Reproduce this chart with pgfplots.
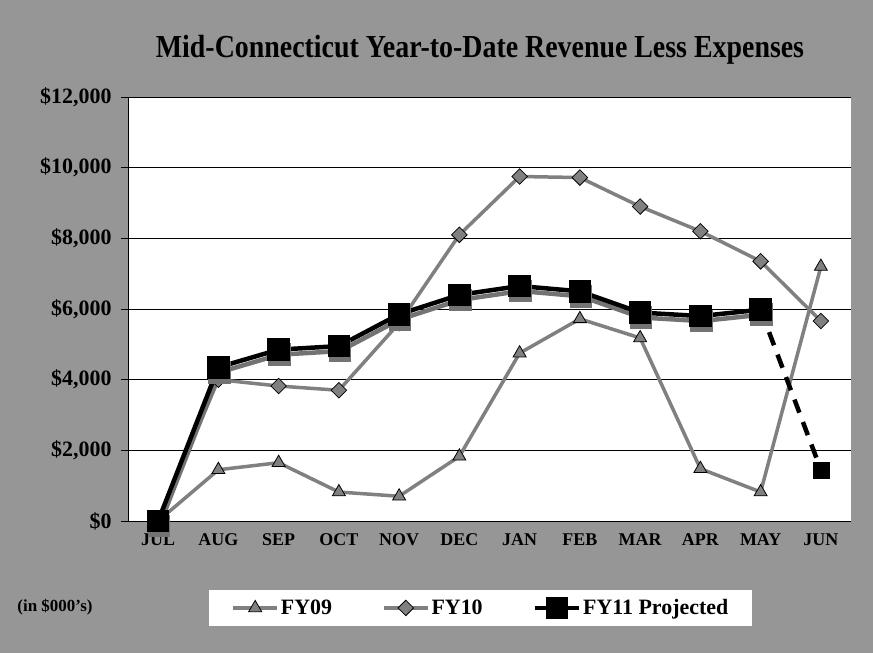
\documentclass[border=0pt]{standalone}
\usepackage{pgfplots}
\pgfplotsset{compat=1.18}
\usepackage{fontspec}
\setmainfont{Liberation Serif}
\definecolor{bggray}{RGB}{150,150,150}
\definecolor{linegray}{RGB}{128,128,128}
\definecolor{shadowgray}{RGB}{115,115,115}

% Year-to-date revenue less expenses, in $000's, JUL = 0 ... JUN = 11
\pgfplotstableread{
m fy09 fy10 fy11
0  0    0    0
1  1450 4000 4350
2  1650 3820 4850
3  820  3700 4950
4  700  5600 5850
5  1830 8100 6400
6  4750 9750 6650
7  5720 9720 6500
8  5180 8900 5900
9  1480 8200 5800
10 820  7350 5980
11 7200 5660 1450
}\revtable

\pgfplotstableread{
m fy11
0  0
1  4350
2  4850
3  4950
4  5850
5  6400
6  6650
7  6500
8  5900
9  5800
10 5980
}\actualtable

\pgfplotstableread{
m fy11
10 5980
11 1450
}\projtable

\begin{document}
\begin{tikzpicture}
\fill[bggray] (0bp,0bp) rectangle (873bp,653bp);
\node[font=\bfseries\fontsize{28}{30}\selectfont, yscale=1.15, transform shape] at (480bp,603bp)
  {Mid-Connecticut Year-to-Date Revenue Less Expenses};
\node[font=\bfseries\fontsize{17}{19}\selectfont] at (55bp,46bp) {(in \$000's)};
\begin{axis}[
  at={(128bp,132bp)}, anchor=south west,
  scale only axis, width=723bp, height=424bp,
  xmin=-0.5, xmax=11.5, ymin=0, ymax=12000,
  scaled y ticks=false,
  axis background/.style={fill=white},
  axis x line*=bottom, axis y line*=left,
  axis line style={black, line width=0.6bp},
  xtick={0,...,11},
  xticklabels={JUL,AUG,SEP,OCT,NOV,DEC,JAN,FEB,MAR,APR,MAY,JUN},
  ytick={0,2000,4000,6000,8000,10000,12000},
  yticklabels={{\$0},{\$2,000},{\$4,000},{\$6,000},{\$8,000},{\$10,000},{\$12,000}},
  ymajorgrids, grid style={black, line width=0.7bp},
  major x tick style={draw=none},
  major y tick style={black, line width=0.6bp},
  tick align=outside, major tick length=7bp,
  xticklabel style={font=\bfseries\fontsize{18}{20}\selectfont, yshift=-2bp},
  yticklabel style={font=\bfseries\fontsize{22}{24}\selectfont, xshift=-6bp},
  clip=false,
  legend style={at={(0.488,-0.205)}, anchor=center, draw=none, fill=white,
    font=\bfseries\fontsize{22}{24}\selectfont,
    inner xsep=22bp, inner ysep=8bp,
    /tikz/every even column/.append style={column sep=48bp}},
  legend columns=3,
  legend image code/.code={
    \draw[mark repeat=2, mark phase=2] plot coordinates {(0bp,0bp) (22bp,0bp) (44bp,0bp)};},
]
% FY09
\addplot[linegray, line width=3.5bp, mark=triangle*, mark size=7.5bp,
  mark options={fill=linegray, draw=black, line width=0.8bp}]
  table[x=m, y=fy09] {\revtable};
\addlegendentry{FY09}
% FY10
\addplot[linegray, line width=3.5bp, mark=square*, mark size=5.5bp,
  mark options={rotate=45, fill=linegray, draw=black, line width=0.8bp}]
  table[x=m, y=fy10] {\revtable};
\addlegendentry{FY10}
% FY11 shadow
\addplot[shadowgray, line width=4.5bp, mark=square*, mark size=9bp,
  mark options={fill=shadowgray, draw=shadowgray}, shift={(1bp,-5bp)}, forget plot]
  table[x=m, y=fy11] {\actualtable};
% FY11 actual
\addplot[black, line width=4.5bp, mark=square*, mark size=9bp,
  mark options={fill=black}]
  table[x=m, y=fy11] {\actualtable};
\addlegendentry{FY11 Projected}
% FY11 projected June
\addplot[black, line width=4.5bp, dash pattern=on 14bp off 10bp, mark=none, forget plot]
  table[x=m, y=fy11] {\projtable};
\addplot[black, only marks, mark=square*, mark size=8bp, forget plot]
  coordinates {(11,1450)};
\end{axis}
\end{tikzpicture}
\end{document}
